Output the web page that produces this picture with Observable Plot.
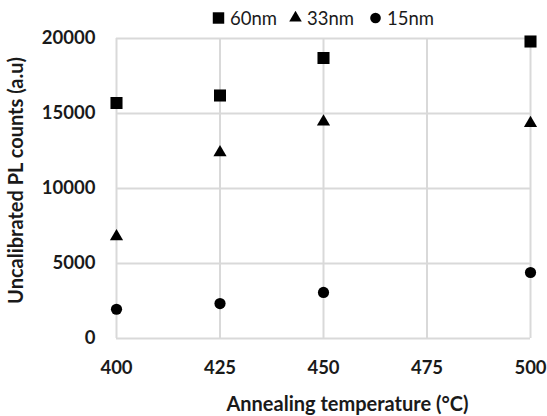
<!DOCTYPE html>
<html>
<head>
<meta charset="utf-8">
<script src="https://cdn.jsdelivr.net/npm/d3@7"></script>
<script src="https://cdn.jsdelivr.net/npm/@observablehq/plot@0.6"></script>
<style>
  body { margin: 0; background: #fff; }
  #wrap { width: 547px; height: 416px; position: relative; font-family: Lato, sans-serif; }
  #legend { height: 26px; position: relative; font-size: 18.5px; color: #1a1a1a; }
  #legend .item { position: absolute; top: 8px; height: 20px; display: flex; align-items: center; line-height: 20px; }
  #legend svg { margin-right: 5px; }
</style>
</head>
<body>
<div id="wrap">
  <div id="legend"></div>
  <div id="chart"></div>
</div>
<script>
const temperatures = [400, 425, 450, 500];
const series = ["60nm", "33nm", "15nm"];
const values60 = [15700, 16200, 18700, 19800];
const values33 = [6800, 12400, 14450, 14350];
const values15 = [1950, 2330, 3070, 4400];
const xTicks = [400, 425, 450, 475, 500];
const yTicks = [0, 5000, 10000, 15000, 20000];
const xLabel = "Annealing temperature (°C)";
const yLabel = "Uncalibrated PL counts (a.u)";
const symbols = {"60nm": "square", "33nm": "triangle", "15nm": "circle"};
const radii = {"60nm": 6.8, "33nm": 4.9, "15nm": 5.6};
const legendLeft = {"60nm": 212, "33nm": 289, "15nm": 369};

const allValues = [values60, values33, values15];
const data = [];
series.forEach((s, i) => temperatures.forEach((t, j) => data.push({series: s, temp: t, value: allValues[i][j]})));

const legend = document.getElementById("legend");
series.forEach(s => {
  const item = document.createElement("div");
  item.className = "item";
  item.style.left = legendLeft[s] + "px";
  const r = radii[s] * 0.95;
  const path = d3.symbol(s === "60nm" ? d3.symbolSquare : s === "33nm" ? d3.symbolTriangle : d3.symbolCircle, Math.PI * r * r)();
  item.innerHTML = `<svg width="13" height="14" viewBox="-6.5 -7 13 14"><path d="${path}" fill="#000"/></svg><span>${s}</span>`;
  legend.appendChild(item);
});

const chart = Plot.plot({
  width: 547,
  height: 390,
  marginLeft: 116,
  marginRight: 17,
  marginTop: 12,
  marginBottom: 78,
  style: {fontFamily: "Lato, sans-serif", fontSize: "18.5px", fontWeight: "bold", color: "#1a1a1a", background: "#fff"},
  x: {domain: [400, 500], ticks: xTicks, tickSize: 0, tickPadding: 22, label: null},
  y: {domain: [0, 20000], ticks: yTicks, tickSize: 0, tickPadding: 21, tickFormat: d3.format("d"), label: null},
  symbol: {domain: series, range: series.map(s => symbols[s])},
  r: {type: "identity"},
  marks: [
    Plot.gridX(xTicks, {stroke: "#d9d9d9", strokeOpacity: 1, strokeWidth: 2}),
    Plot.gridY(yTicks, {stroke: "#d9d9d9", strokeOpacity: 1, strokeWidth: 2}),
    Plot.axisX(xTicks, {tickSize: 0, tickPadding: 22, label: null}),
    Plot.axisY(yTicks, {tickSize: 0, tickPadding: 21, tickFormat: d3.format("d"), label: null}),
    Plot.text([xLabel], {frameAnchor: "bottom", text: d => d, textAnchor: "middle", dx: 24, dy: 66, fontSize: 20, fontWeight: "bold", lineAnchor: "middle"}),
    Plot.text([yLabel], {frameAnchor: "left", text: d => d, textAnchor: "middle", rotate: -90, dx: -100, dy: -8, fontSize: 20, fontWeight: "bold", lineAnchor: "middle"}),
    Plot.dot(data, {x: "temp", y: "value", symbol: "series", r: d => radii[d.series], fill: "black", stroke: "none"})
  ]
});
document.getElementById("chart").appendChild(chart);
</script>
</body>
</html>
